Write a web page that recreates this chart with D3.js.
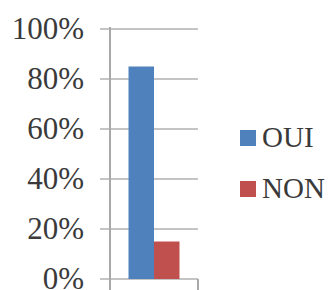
<!DOCTYPE html>
<html><head><meta charset="utf-8">
<script src="https://cdn.jsdelivr.net/npm/d3@7"></script>
<style>
body{margin:0;background:#fff;}
</style></head>
<body>
<svg id="c" width="329" height="290"></svg>
<script>
const categories = [""];
const seriesNames = ["OUI", "NON"];
const seriesValues = [0.85, 0.15];
const seriesColors = ["#4F81BD", "#C0504D"];
const yTicks = [0, 0.2, 0.4, 0.6, 0.8, 1.0];

(function () {
const FONT = "'Liberation Serif', 'DejaVu Serif', serif";
const svg = d3.select("#c");
const pLeft = 110, pRight = 198, pTop = 29, pBottom = 279;

const y = d3.scaleLinear().domain([0, 1]).range([pBottom, pTop]);
const x0 = d3.scaleBand().domain(categories).range([pLeft, pRight]).paddingInner(0).paddingOuter(0.3627);
const x1 = d3.scaleBand().domain(seriesNames).range([0, x0.bandwidth()]).padding(0);

svg.append("g").selectAll("line").data(yTicks).join("line")
  .attr("x1", pLeft - 10).attr("x2", pRight)
  .attr("y1", d => y(d)).attr("y2", d => y(d))
  .attr("stroke", "#c4c4c4").attr("stroke-width", 2);

svg.append("line").attr("x1", pLeft).attr("x2", pLeft).attr("y1", pTop - 2).attr("y2", 290)
  .attr("stroke", "#a8a8a8").attr("stroke-width", 2);
svg.append("line").attr("x1", pRight).attr("x2", pRight).attr("y1", pBottom).attr("y2", 290)
  .attr("stroke", "#a8a8a8").attr("stroke-width", 2);

const g = svg.append("g").selectAll("g").data(categories).join("g")
  .attr("transform", d => `translate(${x0(d)},0)`);
g.selectAll("rect").data(seriesNames.map((s, i) => ({s, v: seriesValues[i], c: seriesColors[i]}))).join("rect")
  .attr("x", d => x1(d.s)).attr("width", x1.bandwidth())
  .attr("y", d => y(d.v)).attr("height", d => y(0) - y(d.v))
  .attr("fill", d => d.c);

svg.append("g").selectAll("text").data(yTicks).join("text")
  .attr("x", 84).attr("y", d => y(d) + 9.5)
  .attr("text-anchor", "end").attr("font-size", 31)
  .attr("font-family", FONT).attr("fill", "#3a3a3a")
  .text(d => d3.format(".0%")(d));

const leg = svg.append("g").selectAll("g").data(seriesNames).join("g")
  .attr("transform", (d, i) => `translate(240,${130 + i * 51})`);
leg.append("rect").attr("width", 16).attr("height", 16).attr("fill", (d, i) => seriesColors[i]);
leg.append("text").attr("x", 22).attr("y", 17).attr("font-size", 29)
  .attr("font-family", FONT).attr("fill", "#3a3a3a").text(d => d);
})();
</script>
</body></html>
